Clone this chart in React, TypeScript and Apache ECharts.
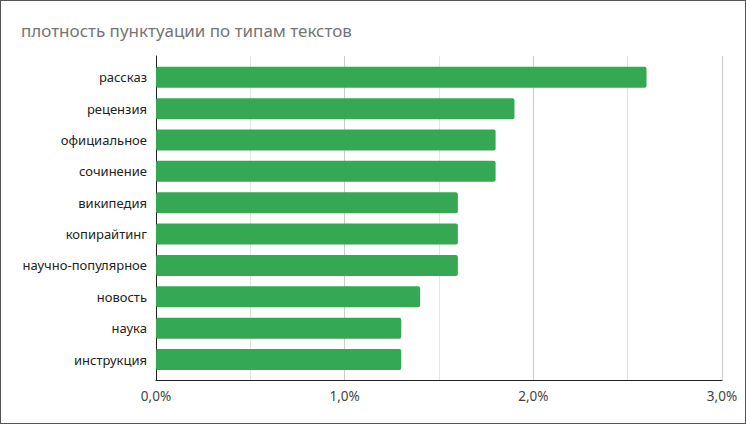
import React, { useEffect, useRef } from "react";
import * as echarts from "echarts";

const title = "плотность пунктуации по типам текстов";
const categories = [
  "рассказ",
  "рецензия",
  "официальное",
  "сочинение",
  "википедия",
  "копирайтинг",
  "научно-популярное",
  "новость",
  "наука",
  "инструкция",
];
const values = [2.6, 1.9, 1.8, 1.8, 1.6, 1.6, 1.6, 1.4, 1.3, 1.3];
const tickLabels = ["0,0%", "1,0%", "2,0%", "3,0%"];

const FONT = "'Noto Sans', 'DejaVu Sans', sans-serif";

export default function App() {
  const ref = useRef<HTMLDivElement>(null);
  useEffect(() => {
    document.body.style.margin = "0";
    const chart = echarts.init(ref.current!, null, { renderer: "svg" });
    chart.setOption({
      animation: false,
      backgroundColor: "#fff",
      textStyle: { fontFamily: FONT },
      title: {
        text: title,
        left: 20,
        top: 21,
        padding: 0,
        textStyle: { color: "#757575", fontSize: 17, fontWeight: "normal", fontFamily: FONT },
      },
      grid: [
        { left: 155, right: 23, top: 60.6, bottom: 47.8, containLabel: false },
        { left: 155, right: 23, top: 55, bottom: 42.5, containLabel: false },
      ],
      xAxis: [
        {
          type: "value",
          gridIndex: 0,
          min: 0,
          max: 3,
          interval: 1,
          show: false,
        },
        {
          type: "value",
          gridIndex: 1,
          min: 0,
          max: 3,
          interval: 1,
          axisLine: { show: true, lineStyle: { color: "#222", width: 1 } },
          axisTick: { show: false },
          axisLabel: {
            color: "#444",
            fontSize: 13.5,
            margin: 8,
            fontFamily: FONT,
            formatter: (v: number) => tickLabels[Math.round(v)] ?? "",
          },
          splitLine: { show: true, lineStyle: { color: "#cccccc", width: 1 } },
          minorTick: { show: false, splitNumber: 2 },
          minorSplitLine: { show: true, lineStyle: { color: "#e4e4e4", width: 1 } },
        },
      ],
      yAxis: [
        {
          type: "category",
          gridIndex: 0,
          data: categories,
          inverse: true,
          axisLine: { show: false },
          axisTick: { show: false },
          splitLine: { show: false },
          axisLabel: { color: "#222", fontSize: 13, margin: 9, fontFamily: FONT },
        },
        {
          type: "value",
          gridIndex: 1,
          min: 0,
          max: 1,
          axisLine: { show: true, lineStyle: { color: "#222", width: 1 } },
          axisTick: { show: false },
          axisLabel: { show: false },
          splitLine: { show: false },
        },
      ],
      series: [
        {
          type: "bar",
          xAxisIndex: 0,
          yAxisIndex: 0,
          data: values,
          barWidth: 21,
          itemStyle: { color: "#34a853", borderRadius: 2 },
          z: 5,
        },
      ],
    });
    return () => chart.dispose();
  }, []);
  return (
    <div
      style={{
        position: "fixed",
        left: 0,
        top: 0,
        width: 746,
        height: 424,
        boxSizing: "border-box",
        border: "1px solid #555",
        background: "#fff",
      }}
    >
      <div ref={ref} style={{ width: 744, height: 422 }} />
    </div>
  );
}
